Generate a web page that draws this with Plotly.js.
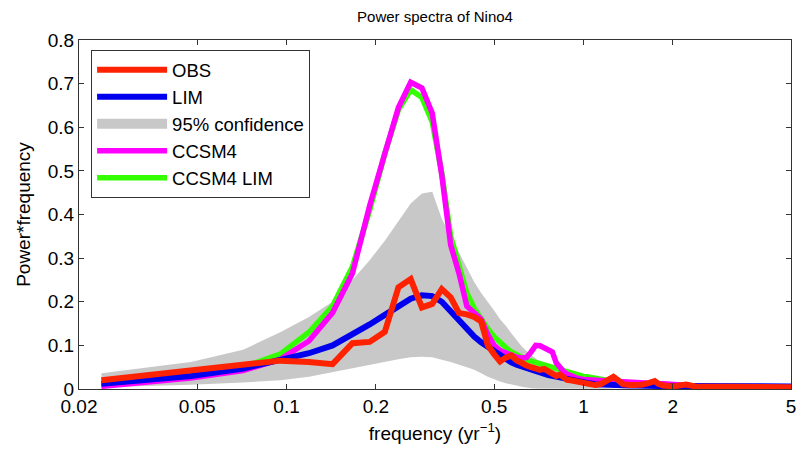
<!DOCTYPE html>
<html>
<head>
<meta charset="utf-8">
<script src="https://cdn.plot.ly/plotly-3.0.1.min.js"></script>
<style>html,body{margin:0;padding:0;background:#fff;}#chart{width:799px;height:451px;}</style>
</head>
<body>
<div id="chart"></div>
<script>
// frequency (yr^-1)
const freq = [0.0238,0.0476,0.0714,0.0952,0.1190,0.1429,0.1667,0.1905,0.2143,0.2381,
  0.2619,0.2857,0.3095,0.3333,0.3571,0.3810,0.4048,0.4286,0.4524,0.4762,
  0.5000,0.5238,0.5476,0.5714,0.5952,0.6190,0.6429,0.6667,0.6905,0.7143,
  0.7381,0.7619,0.7857,0.8095,0.8333,0.8571,0.8810,0.9048,
  0.9524,1.0000,1.0476,1.0952,1.1429,1.1905,1.2381,1.2619,1.3095,1.3571,1.4286,1.5000,
  1.5714,1.6667,1.7381,1.7857,1.8571,2.0000,2.2143,2.3810,2.8571,3.5714,4.2857,5.0000];

const obs = [0.020,0.041,0.056,0.065,0.062,0.057,0.105,0.108,0.131,0.233,
  0.252,0.187,0.195,0.229,0.210,0.174,0.171,0.165,0.155,0.100,
  0.080,0.063,0.072,0.077,0.066,0.058,0.054,0.050,0.047,0.044,
  0.046,0.040,0.033,0.030,0.033,0.026,0.021,0.020,
  0.017,0.013,0.011,0.009,0.011,0.018,0.027,0.028,0.020,0.011,0.009,0.008,
  0.010,0.014,0.018,0.012,0.008,0.006,0.010,0.006,0.005,0.005,0.004,0.004];

const lim = [0.012,0.030,0.047,0.065,0.082,0.100,0.125,0.148,0.170,0.190,
  0.207,0.215,0.213,0.200,0.177,0.155,0.137,0.120,0.107,0.097,
  0.085,0.075,0.067,0.061,0.056,0.052,0.048,0.044,0.040,0.036,
  0.034,0.032,0.030,0.028,0.026,0.024,0.022,0.021,
  0.018,0.016,0.013,0.011,0.010,0.009,0.009,0.008,0.008,0.008,0.008,0.008,
  0.007,0.007,0.007,0.007,0.007,0.007,0.006,0.006,0.006,0.006,0.006,0.006];

const ccsm4 = [0.006,0.025,0.042,0.068,0.110,0.175,0.265,0.420,0.540,0.645,
  0.703,0.690,0.632,0.490,0.330,0.265,0.190,0.175,0.160,0.125,
  0.100,0.088,0.082,0.077,0.073,0.071,0.072,0.085,0.100,0.099,
  0.095,0.090,0.085,0.060,0.048,0.040,0.034,0.030,
  0.025,0.022,0.021,0.020,0.020,0.019,0.018,0.018,0.017,0.016,0.015,0.014,
  0.014,0.013,0.013,0.012,0.012,0.010,0.009,0.007,0.005,0.005,0.004,0.004];

const ccsm4Lim = [0.008,0.028,0.050,0.080,0.130,0.190,0.280,0.410,0.540,0.640,
  0.686,0.668,0.612,0.495,0.350,0.280,0.220,0.185,0.160,0.138,
  0.120,0.106,0.095,0.085,0.078,0.072,0.067,0.064,0.061,0.058,
  0.056,0.053,0.050,0.047,0.044,0.041,0.038,0.036,
  0.032,0.029,0.027,0.024,0.022,0.020,0.019,0.018,0.017,0.016,0.014,0.013,
  0.012,0.011,0.010,0.010,0.009,0.008,0.007,0.006,0.005,0.005,0.004,0.004];

const ciUpper = [0.036,0.062,0.090,0.130,0.165,0.200,0.250,0.295,0.340,0.385,
  0.425,0.448,0.452,0.390,0.350,0.310,0.275,0.245,0.220,0.200,
  0.180,0.160,0.145,0.128,0.112,0.098,0.087,0.078,0.070,0.062,
  0.056,0.050,0.046,0.043,0.039,0.035,0.030,0.025,
  0.020,0.015,0.009,0.005,0.003,0.002,0.001,0.001,0.000,0.000,0.000,0.000,
  0.000,0.000,0.000,0.000,0.000,0.000,0.000,0.000,0.000,0.000,0.000,0.000];

const ciLower = [0.004,0.010,0.015,0.020,0.028,0.038,0.047,0.055,0.062,0.068,
  0.073,0.074,0.073,0.067,0.062,0.056,0.050,0.044,0.036,0.028,
  0.022,0.017,0.013,0.010,0.008,0.005,0.003,0.002,0.001,0.001,
  0.000,0.000,0.000,0.000,0.000,0.000,0.000,0.000,
  0.000,0.000,0.000,0.000,0.000,0.000,0.000,0.000,0.000,0.000,0.000,0.000,
  0.000,0.000,0.000,0.000,0.000,0.000,0.000,0.000,0.000,0.000,0.000,0.000];

const xTicks = [0.02,0.05,0.1,0.2,0.5,1,2,5];
const xTickText = ['0.02','0.05','0.1','0.2','0.5','1','2','5'];
const yTicks = [0,0.1,0.2,0.3,0.4,0.5,0.6,0.7,0.8];
const yTickText = ['0','0.1','0.2','0.3','0.4','0.5','0.6','0.7','0.8'];

const bandX = freq.concat(freq.slice().reverse());
const bandY = ciUpper.concat(ciLower.slice().reverse());

const traces = [
  {x: bandX, y: bandY, type: 'scatter', mode: 'lines', fill: 'toself',
   fillcolor: '#c8c8c8', line: {width: 0, color: '#c8c8c8'}, name: '95% confidence', showlegend: false, hoverinfo: 'skip'},
  {x: [null], y: [null], type: 'scatter', mode: 'lines', line: {color: '#c8c8c8', width: 14},
   name: '95% confidence', legendrank: 3},
  {x: freq, y: ccsm4Lim, type: 'scatter', mode: 'lines', line: {color: '#33ff00', width: 5.5}, name: 'CCSM4 LIM', legendrank: 5},
  {x: freq, y: ccsm4, type: 'scatter', mode: 'lines', line: {color: '#ff00ff', width: 5.5}, name: 'CCSM4', legendrank: 4},
  {x: freq, y: lim, type: 'scatter', mode: 'lines', line: {color: '#0000ee', width: 6}, name: 'LIM', legendrank: 2},
  {x: freq, y: obs, type: 'scatter', mode: 'lines', line: {color: '#ff2200', width: 6}, name: 'OBS', legendrank: 1}
];

const fam = 'Liberation Sans, Arial, sans-serif';
const axisFont = {family: fam, size: 19, color: '#000'};

const layout = {
  width: 799, height: 451,
  margin: {l: 79, r: 8, t: 40, b: 62},
  paper_bgcolor: '#fff', plot_bgcolor: '#fff',
  font: axisFont,
  title: {text: 'Power spectra of Nino4', font: {family: fam, size: 15, color: '#000'},
          x: 0.5, xref: 'paper', y: 0.962, yref: 'container', yanchor: 'middle'},
  xaxis: {type: 'log', range: [Math.log10(0.02), Math.log10(5)], tickvals: xTicks, ticktext: xTickText,
          ticks: 'inside', ticklen: 5, tickcolor: '#333', mirror: 'ticks', showline: true, linecolor: '#333', linewidth: 1,
          showgrid: false, zeroline: false, tickfont: axisFont,
          title: {text: 'frequency (yr<sup>\u22121</sup>)', font: axisFont, standoff: 10}},
  yaxis: {range: [0, 0.8], tickvals: yTicks, ticktext: yTickText,
          ticks: 'inside', ticklen: 5, tickcolor: '#333', mirror: 'ticks', showline: true, linecolor: '#333', linewidth: 1,
          showgrid: false, zeroline: false, tickfont: axisFont,
          title: {text: 'Power*frequency', font: axisFont, standoff: 12}},
  legend: {x: 0.017, y: 0.971, xanchor: 'left', yanchor: 'top', bgcolor: '#fff', bordercolor: '#333', borderwidth: 1,
           font: {family: fam, size: 18.5, color: '#000'}, itemwidth: 70, traceorder: 'normal'},
  showlegend: true
};

Plotly.newPlot('chart', traces, layout, {staticPlot: true, displayModeBar: false});
</script>
</body>
</html>
